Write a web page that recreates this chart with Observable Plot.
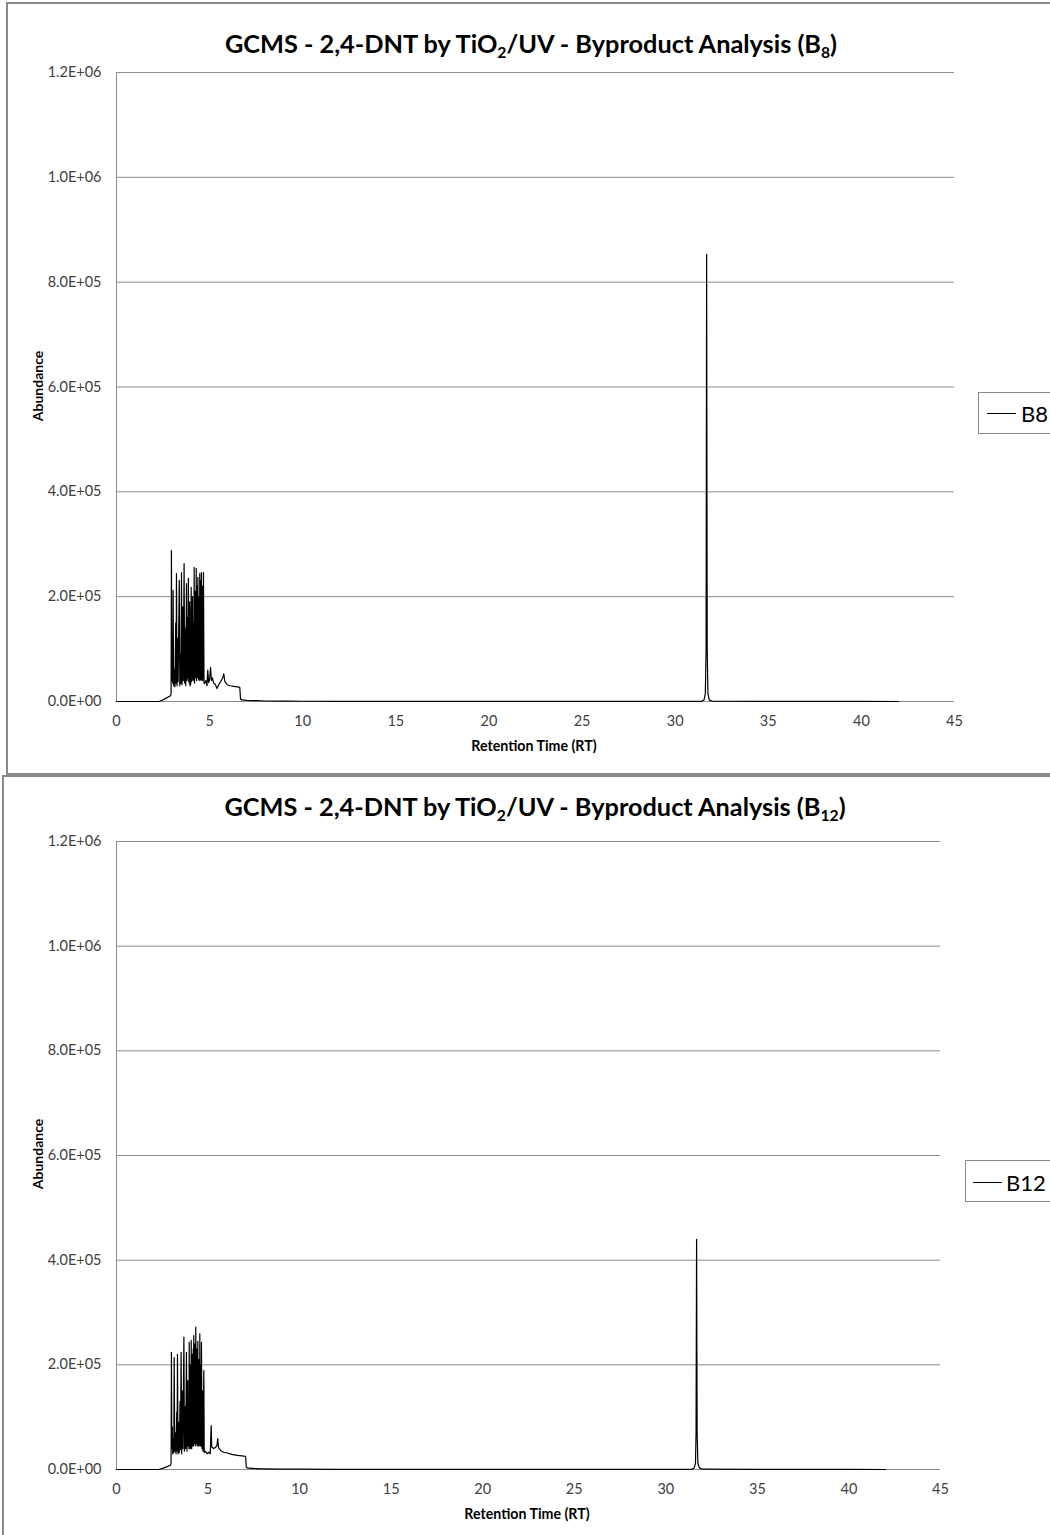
<!DOCTYPE html>
<html>
<head>
<meta charset="utf-8">
<script src="https://cdn.jsdelivr.net/npm/d3@7"></script>
<script src="https://cdn.jsdelivr.net/npm/@observablehq/plot@0.6"></script>
<style>
  html, body { margin: 0; padding: 0; background: #fff; }
  body { width: 1050px; height: 1535px; overflow: hidden; position: relative; font-family: Lato, "Open Sans", sans-serif; }
  .abs { position: absolute; }
  .panel { position: absolute; border-left: 2px solid #8a8a8a; border-top: 2px solid #8a8a8a; box-sizing: border-box; }
  .title { position: absolute; font-weight: bold; font-size: 25.3px; color: #000; text-align: center; white-space: nowrap; line-height: 1; }
  .title sub { font-size: 0.62em; vertical-align: -0.35em; line-height: 0; }
  .ylab { position: absolute; font-weight: bold; font-size: 14px; color: #000; white-space: nowrap; transform: translate(-50%, -50%) rotate(-90deg); }
  .xlab { position: absolute; font-weight: bold; font-size: 14.2px; color: #000; white-space: nowrap; transform: translate(-50%, -50%); }
  .legend { position: absolute; border: 1px solid #8a8a8a; background: #fff; box-sizing: border-box; }
  .legend .sw { position: absolute; height: 0; border-top: 1px solid #000; }
  .legend .lt { position: absolute; font-size: 22px; color: #000; line-height: 1; transform: translateY(-50%); white-space: nowrap; }
</style>
</head>
<body>
<div class="panel" style="left:6px; top:2px; width:1100px; height:773px; border-bottom:2px solid #8a8a8a;"></div>
<div class="panel" style="left:2px; top:775px; width:1100px; height:800px;"></div>

<div class="title" id="t1" style="left:0; width:1062px; top:31px;">GCMS - 2,4-DNT by TiO<sub>2</sub>/UV - Byproduct Analysis (B<sub>8</sub>)</div>
<div class="title" id="t2" style="left:0; width:1070px; top:794px;">GCMS - 2,4-DNT by TiO<sub>2</sub>/UV - Byproduct Analysis (B<sub>12</sub>)</div>

<div id="c1" class="abs" style="left:0; top:60px;"></div>
<div id="c2" class="abs" style="left:0; top:830px;"></div>

<div class="ylab" style="left:37px; top:386px;">Abundance</div>
<div class="ylab" style="left:37px; top:1154px;">Abundance</div>
<div class="xlab" style="left:534px; top:745px;">Retention Time (RT)</div>
<div class="xlab" style="left:527px; top:1513px;">Retention Time (RT)</div>

<div class="legend" style="left:978px; top:392px; width:100px; height:42px;">
  <div class="sw" style="left:8px; width:29px; top:20px;"></div>
  <div class="lt" style="left:42px; top:21px;">B8</div>
</div>
<div class="legend" style="left:965px; top:1160px; width:110px; height:42px;">
  <div class="sw" style="left:7px; width:29px; top:21px;"></div>
  <div class="lt" style="left:40px; top:22px;">B12</div>
</div>

<script>
// ---- Data (retention time in minutes, abundance) ----
const xTicks = [0, 5, 10, 15, 20, 25, 30, 35, 40, 45];
const yTicks = [0, 200000, 400000, 600000, 800000, 1000000, 1200000];

const b8Trace = [
  [0, 0], [2.3, 0], [2.6, 5000], [2.9, 11000], [2.93, 14000],
  [2.95, 288000], [2.97, 40000], [3.00, 105000], [3.02, 35000], [3.04, 212000],
  [3.07, 30000], [3.11, 60000], [3.14, 28000], [3.18, 150000], [3.20, 35000],
  [3.22, 244000], [3.25, 30000], [3.29, 120000], [3.31, 38000], [3.37, 231000],
  [3.40, 30000], [3.44, 90000], [3.46, 35000], [3.49, 246000], [3.52, 32000],
  [3.56, 180000], [3.59, 40000], [3.63, 263000], [3.66, 35000], [3.70, 140000],
  [3.72, 30000], [3.76, 225000], [3.79, 40000], [3.82, 160000], [3.84, 45000],
  [3.86, 235000], [3.88, 38000], [3.90, 120000], [3.91, 35000], [3.93, 190000],
  [3.95, 30000], [3.97, 110000], [3.98, 32000], [4.01, 218000], [4.03, 38000],
  [4.05, 140000], [4.06, 40000], [4.08, 200000], [4.10, 45000], [4.12, 130000],
  [4.13, 42000], [4.14, 150000], [4.15, 40000], [4.17, 256000], [4.19, 35000],
  [4.21, 160000], [4.22, 45000], [4.23, 210000], [4.25, 50000], [4.26, 170000],
  [4.27, 45000], [4.28, 254000], [4.30, 40000], [4.31, 180000], [4.32, 45000],
  [4.33, 220000], [4.35, 50000], [4.36, 190000], [4.37, 237000], [4.39, 45000],
  [4.40, 170000], [4.41, 42000], [4.42, 200000], [4.44, 40000], [4.45, 160000],
  [4.46, 45000], [4.47, 244000], [4.49, 45000], [4.50, 180000], [4.51, 42000],
  [4.52, 230000], [4.54, 40000], [4.55, 200000], [4.56, 246000], [4.58, 45000],
  [4.59, 170000], [4.60, 42000], [4.61, 220000], [4.63, 40000], [4.65, 150000],
  [4.66, 45000], [4.67, 246000], [4.70, 35000], [4.72, 34000], [4.80, 40000],
  [4.86, 30000], [4.90, 60000], [4.95, 36000], [5.00, 42000], [5.05, 65000],
  [5.10, 40000], [5.15, 45000], [5.22, 35000], [5.30, 33000], [5.40, 25000],
  [5.50, 33000], [5.60, 38000], [5.70, 45000], [5.76, 53000], [5.82, 38000],
  [5.95, 32000], [6.10, 30000], [6.30, 29000], [6.50, 28000], [6.62, 27000],
  [6.66, 5000], [6.75, 3000], [7.0, 2200], [7.5, 1500], [8.0, 1000], [9.0, 700],
  [10, 500], [12, 400], [15, 300], [20, 200], [25, 150], [30, 150],
  [31.40, 300], [31.55, 3000], [31.62, 15000], [31.66, 100000], [31.69, 853000],
  [31.72, 100000], [31.76, 15000], [31.83, 3000], [32.0, 500], [35, 200],
  [40, 100], [42, 0]
];

const b12Trace = [
  [0, 0], [2.3, 0], [2.6, 3000], [2.95, 8000], [2.98, 12000],
  [3.00, 224000], [3.02, 40000], [3.05, 81000], [3.07, 30000], [3.11, 60000],
  [3.13, 32000], [3.15, 214000], [3.18, 35000], [3.22, 70000], [3.25, 30000],
  [3.29, 110000], [3.31, 35000], [3.33, 220000], [3.36, 30000], [3.40, 90000],
  [3.43, 32000], [3.47, 130000], [3.49, 38000], [3.53, 224000], [3.56, 30000],
  [3.60, 150000], [3.63, 40000], [3.68, 253000], [3.71, 35000], [3.75, 120000],
  [3.78, 40000], [3.82, 224000], [3.85, 35000], [3.89, 170000], [3.92, 45000],
  [3.95, 130000], [3.96, 40000], [3.97, 243000], [4.00, 40000], [4.01, 150000],
  [4.02, 42000], [4.03, 200000], [4.05, 45000], [4.06, 170000], [4.07, 40000],
  [4.08, 247000], [4.11, 40000], [4.12, 160000], [4.13, 45000], [4.14, 220000],
  [4.16, 50000], [4.17, 180000], [4.18, 45000], [4.19, 230000], [4.20, 45000],
  [4.22, 256000], [4.24, 50000], [4.25, 200000], [4.26, 50000], [4.28, 240000],
  [4.30, 45000], [4.31, 210000], [4.32, 48000], [4.33, 272000], [4.35, 50000],
  [4.36, 200000], [4.37, 50000], [4.39, 230000], [4.41, 45000], [4.42, 190000],
  [4.43, 48000], [4.44, 245000], [4.46, 50000], [4.47, 180000], [4.48, 45000],
  [4.49, 210000], [4.51, 45000], [4.53, 190000], [4.54, 48000], [4.55, 259000],
  [4.57, 50000], [4.58, 170000], [4.59, 45000], [4.60, 200000], [4.62, 45000],
  [4.64, 243000], [4.67, 40000], [4.70, 150000], [4.72, 35000], [4.77, 189000],
  [4.79, 32000], [4.85, 35000], [4.95, 30000], [5.05, 33000], [5.12, 30000],
  [5.17, 84000], [5.20, 43000], [5.30, 40000], [5.40, 42000], [5.48, 45000],
  [5.53, 59000], [5.57, 42000], [5.70, 36000], [5.85, 33000], [6.0, 32000],
  [6.3, 29000], [6.6, 27000], [6.85, 26000], [7.05, 25000], [7.09, 4000],
  [7.2, 2500], [7.6, 1800], [8, 1300], [9, 800], [10, 600],
  [12, 400], [15, 300], [20, 200], [25, 150], [30, 150],
  [31.40, 300], [31.55, 3000], [31.62, 12000], [31.65, 70000], [31.68, 440000],
  [31.71, 70000], [31.75, 12000], [31.83, 3000], [32.0, 600], [35, 200],
  [40, 100], [42, 0]
];

// ---- Formatting ----
const sci = d => {
  const [m, e] = d.toExponential(1).split("e");
  const sign = e[0] === "-" ? "-" : "+";
  return `${m}E${sign}${String(Math.abs(+e)).padStart(2, "0")}`;
};

function chart(trace, marginRight, marginTop, marginBottom) {
  return Plot.plot({
    width: 1000,
    height: 710,
    marginLeft: 116,
    marginRight,
    marginTop,
    marginBottom,
    x: { domain: [0, 45] },
    y: { domain: [0, 1200000] },
    style: { fontFamily: "Lato, sans-serif", fontSize: "14.5px", color: "#404040", background: "transparent", overflow: "visible" },
    marks: [
      Plot.gridY(yTicks, { stroke: "#8c8c8c", strokeOpacity: 1, strokeWidth: 1 }),
      Plot.ruleX([0], { stroke: "#8c8c8c", strokeWidth: 1 }),
      Plot.line(trace, { x: d => d[0], y: d => d[1], stroke: "#000", strokeWidth: 1.2 }),
      Plot.axisY(yTicks, { tickSize: 0, tickPadding: 15, tickFormat: sci, label: null }),
      Plot.axisX(xTicks, { tickSize: 0, tickPadding: 14, label: null })
    ]
  });
}

document.getElementById("c1").append(chart(b8Trace, 46, 12, 69));
document.getElementById("c2").append(chart(b12Trace, 60, 11, 71));
</script>
</body>
</html>
